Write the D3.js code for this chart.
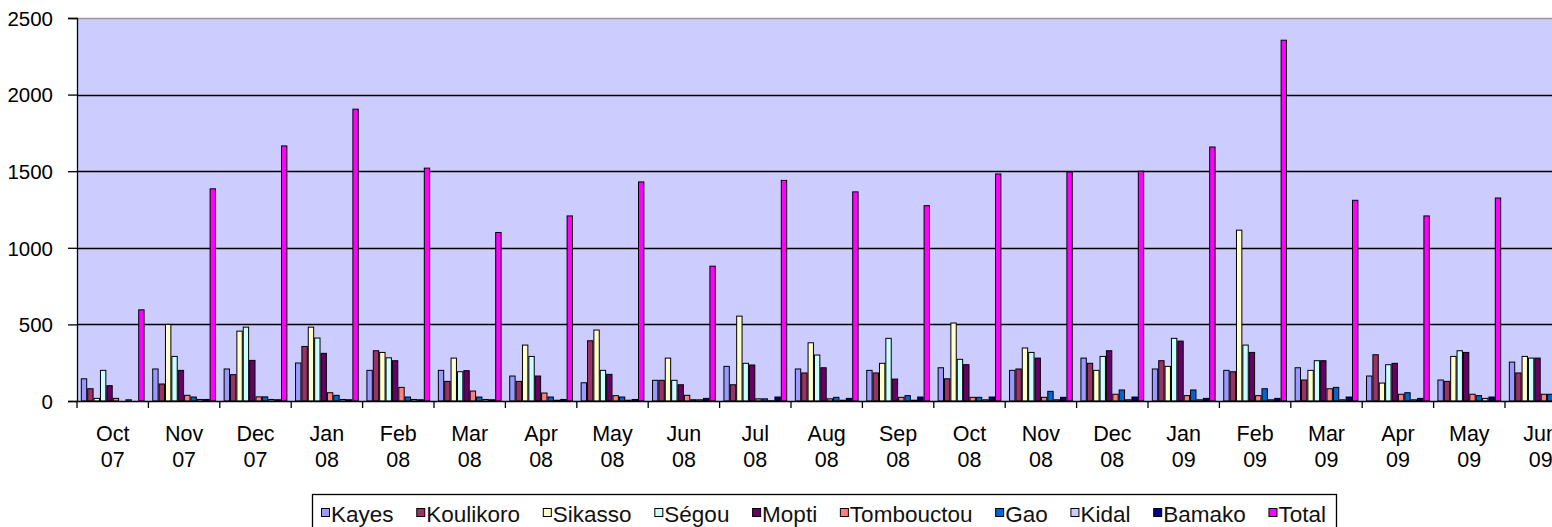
<!DOCTYPE html>
<html><head><meta charset="utf-8">
<script src="https://cdn.jsdelivr.net/npm/d3@7"></script>
<style>
html,body{margin:0;padding:0;background:#fff;overflow:hidden;}
svg{display:block;font-family:"Liberation Sans",Arial,sans-serif;}
</style></head>
<body>
<svg id="chart" width="1552" height="527"></svg>
<script>
const categories = [["Oct","07"],["Nov","07"],["Dec","07"],["Jan","08"],["Feb","08"],["Mar","08"],["Apr","08"],["May","08"],["Jun","08"],["Jul","08"],["Aug","08"],["Sep","08"],["Oct","08"],["Nov","08"],["Dec","08"],["Jan","09"],["Feb","09"],["Mar","09"],["Apr","09"],["May","09"],["Jun","09"]];
const seriesNames = ["Kayes","Koulikoro","Sikasso","Ségou","Mopti","Tombouctou","Gao","Kidal","Bamako","Total"];
const seriesColors = ["#9999FF","#993366","#FFFFCC","#CCFFFF","#660066","#FF8080","#0066CC","#CCCCFF","#000080","#FF00FF"];
const kayes      = [145,209,209,248,200,200,163,119,135,226,209,200,217,200,280,209,200,217,163,137,254];
const koulikoro  = [80,111,172,356,328,128,128,393,135,106,183,183,145,209,246,263,191,137,302,128,183];
const sikasso    = [17,500,456,482,317,280,365,463,280,554,380,246,509,346,200,226,1115,200,117,291,291];
const segou      = [200,291,482,411,282,191,291,200,135,246,300,409,272,317,291,409,365,263,237,328,280];
const mopti      = [100,200,265,311,263,198,163,174,106,235,217,143,237,280,328,391,317,263,246,317,280];
const tombouctou = [17,37,27,54,89,65,52,35,37,14,14,24,24,24,44,35,35,80,44,44,44];
const gao        = [0,26,27,37,26,26,26,26,8,14,24,35,24,63,72,72,80,89,54,35,44];
const kidal      = [8,10,10,10,10,10,5,5,8,2,5,5,8,8,8,8,8,8,8,17,8];
const bamako     = [0,10,8,8,8,8,10,10,17,26,17,26,26,24,26,17,17,26,17,26,20];
const total      = [595,1385,1665,1905,1520,1100,1208,1430,880,1440,1365,1275,1482,1495,1500,1658,2355,1310,1208,1325,1360];
const yTicks = [0,500,1000,1500,2000,2500];

const seriesValues = [kayes,koulikoro,sikasso,segou,mopti,tombouctou,gao,kidal,bamako,total];

const svg = d3.select("#chart");
const pLeft = 77, pTop = 18, pBottom = 401;
const catW = 71.4;
const pRight = pLeft + catW * categories.length;

const x0 = d3.scaleBand().domain(d3.range(categories.length)).range([pLeft, pRight]).paddingInner(0).paddingOuter(0);
const bw = x0.bandwidth();
const gap = bw * 1.2 / 11.2;
const x1 = d3.scaleBand().domain(d3.range(seriesNames.length)).range([gap/2, bw - gap/2]).paddingInner(0).paddingOuter(0);
const y = d3.scaleLinear().domain([0,2500]).range([pBottom, pTop]);

// plot background
svg.append("rect").attr("x", pLeft).attr("y", pTop).attr("width", pRight - pLeft).attr("height", pBottom - pTop).attr("fill", "#CCCCFF");
svg.append("line").attr("x1", pLeft).attr("x2", pRight).attr("y1", pTop+0.5).attr("y2", pTop+0.5).attr("stroke", "#999").attr("stroke-width", 1.5);

// gridlines
svg.append("g").selectAll("line").data(yTicks.filter(t => t > 0 && t < 2500)).join("line")
  .attr("x1", pLeft).attr("x2", pRight)
  .attr("y1", d => Math.round(y(d)) + 0.5).attr("y2", d => Math.round(y(d)) + 0.5)
  .attr("stroke", "#000").attr("stroke-width", 1.3);

// bars
const groups = svg.append("g").selectAll("g").data(categories).join("g")
  .attr("transform", (d, i) => `translate(${x0(i)},0)`);
groups.selectAll("rect").data((d, i) => seriesValues.map((vals, s) => ({s, v: vals[i]}))).join("rect")
  .attr("x", d => x1(d.s) + 0.5)
  .attr("y", d => y(d.v))
  .attr("width", x1.bandwidth() - 1)
  .attr("height", d => pBottom - y(d.v))
  .attr("fill", d => seriesColors[d.s])
  .attr("stroke", "#000").attr("stroke-width", 1);

// y axis
const yAxis = d3.axisLeft(y).tickValues(yTicks).tickSize(9).tickPadding(15).tickFormat(d3.format("d"));
const ya = svg.append("g").attr("transform", `translate(${pLeft},0)`).call(yAxis);
ya.select(".domain").attr("stroke", "#000").attr("stroke-width", 1.3);
ya.selectAll(".tick line").attr("stroke", "#000").attr("stroke-width", 1.3);
ya.selectAll(".tick text").attr("font-size", 20.5).attr("fill", "#000").attr("font-family", '"Liberation Sans",Arial,sans-serif').attr("dy", "0.36em");

// x axis
const xTickScale = d3.scaleLinear().domain([0, categories.length]).range([pLeft, pRight]);
const xa = svg.append("g");
xa.append("line").attr("x1", pLeft).attr("x2", pRight).attr("y1", pBottom+0.5).attr("y2", pBottom+0.5).attr("stroke", "#000").attr("stroke-width", 1.3);
xa.selectAll("line.t").data(d3.range(categories.length + 1)).join("line").attr("class","t")
  .attr("x1", d => xTickScale(d)).attr("x2", d => xTickScale(d))
  .attr("y1", pBottom).attr("y2", pBottom + 7).attr("stroke", "#000").attr("stroke-width", 1.3);
const lab = xa.selectAll("text").data(categories).join("text")
  .attr("text-anchor", "middle").attr("font-size", 21.5).attr("fill", "#000");
lab.append("tspan").attr("x", (d, i) => x0(i) + bw/2).attr("y", 441).text(d => d[0]);
lab.append("tspan").attr("x", (d, i) => x0(i) + bw/2).attr("y", 467).text(d => d[1]);

// legend
const legL = 312, legR = 1336;
const lg = svg.append("g");
lg.append("rect").attr("x", legL + 0.5).attr("y", 494.5).attr("width", legR - legL).attr("height", 40)
  .attr("fill", "#fff").attr("stroke", "#000").attr("stroke-width", 1.3);
const items = lg.selectAll("g").data(seriesNames).join("g");
items.append("rect").attr("x", 0.5).attr("y", 0.5).attr("width", 8).attr("height", 8).attr("fill", (d, i) => seriesColors[i]).attr("stroke", "#000").attr("stroke-width", 1);
items.append("text").attr("x", 10).attr("y", 13.7).attr("font-size", 22.5).attr("fill", "#111").text(d => d);
const widths = [];
items.each(function() { widths.push(d3.select(this).select("text").node().getComputedTextLength()); });
const innerL = legL + 9, innerR = legR - 10;
const used = d3.sum(widths) + 10 * seriesNames.length;
const sp = (innerR - innerL - used) / (seriesNames.length - 1);
let cx = innerL;
const pos = widths.map(w => { const p = cx; cx += 10 + w + sp; return p; });
items.attr("transform", (d, i) => `translate(${pos[i]},508)`);
</script>
</body></html>
